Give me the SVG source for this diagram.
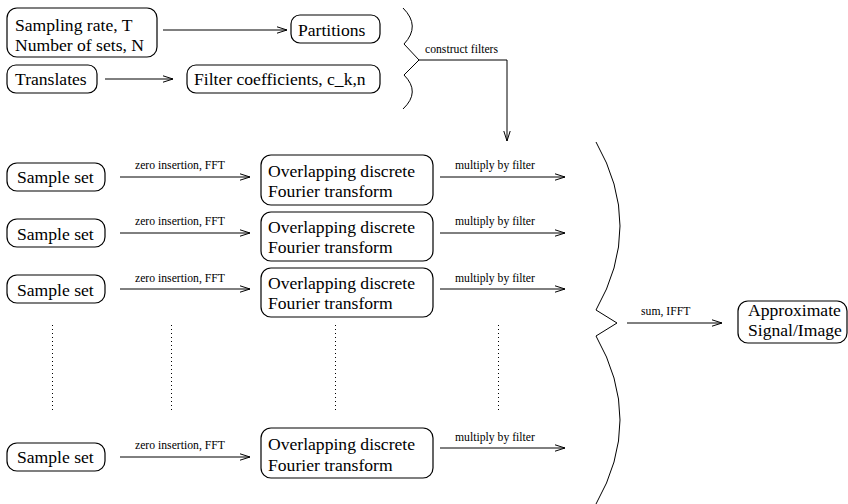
<svg xmlns="http://www.w3.org/2000/svg" width="848" height="504" viewBox="0 0 848 504">
<style>
.box{fill:none;stroke:#000;stroke-width:1.2}
.t{font-family:"Liberation Serif","Times New Roman",serif;font-size:17.6px;fill:#000}
.s{font-family:"Liberation Serif","Times New Roman",serif;font-size:11.7px;fill:#000}
.ln{fill:none;stroke:#000;stroke-width:1}
.dot{fill:none;stroke:#000;stroke-width:1;stroke-dasharray:1 3}
</style>
<defs>
<marker id="ah" markerUnits="userSpaceOnUse" markerWidth="12" markerHeight="8" refX="11" refY="4" orient="auto" overflow="visible">
<path d="M1,0.8 L11,4 L1,7.2" fill="none" stroke="#000" stroke-width="1"/>
</marker>
</defs>
<rect width="848" height="504" fill="#fff"/>

<g id="sampling-rate"><rect class="box" x="7" y="8" width="150" height="49" rx="10"/><text class="t" x="15" y="31">Sampling rate, T</text><text class="t" x="15" y="51">Number of sets, N</text></g>
<g id="partitions"><rect class="box" x="291" y="15" width="89" height="28" rx="9"/><text class="t" x="298" y="36">Partitions</text></g>
<g id="translates"><rect class="box" x="7" y="65" width="90" height="28" rx="9"/><text class="t" x="15" y="85">Translates</text></g>
<g id="filter-coefficients"><rect class="box" x="187" y="65" width="193" height="28" rx="9"/><text class="t" x="194" y="85">Filter coefficients, c_k,n</text></g>

<g id="sample-set-1"><rect class="box" x="7" y="163" width="98" height="28" rx="10"/><text class="t" x="17" y="183">Sample set</text></g>
<g id="sample-set-2"><rect class="box" x="7" y="219" width="98" height="28" rx="10"/><text class="t" x="17" y="240">Sample set</text></g>
<g id="sample-set-3"><rect class="box" x="7" y="275" width="98" height="28" rx="10"/><text class="t" x="17" y="296">Sample set</text></g>
<g id="sample-set-4"><rect class="box" x="7" y="443" width="98" height="28" rx="10"/><text class="t" x="17" y="463">Sample set</text></g>

<g id="odft-1"><rect class="box" x="261" y="155" width="172" height="50" rx="10"/><text class="t" x="268" y="177">Overlapping discrete</text><text class="t" x="268" y="197">Fourier transform</text></g>
<g id="odft-2"><rect class="box" x="261" y="212" width="172" height="49" rx="10"/><text class="t" x="268" y="233">Overlapping discrete</text><text class="t" x="268" y="253">Fourier transform</text></g>
<g id="odft-3"><rect class="box" x="261" y="268" width="172" height="49" rx="10"/><text class="t" x="268" y="289">Overlapping discrete</text><text class="t" x="268" y="309">Fourier transform</text></g>
<g id="odft-4"><rect class="box" x="261" y="428" width="172" height="50" rx="10"/><text class="t" x="268" y="450">Overlapping discrete</text><text class="t" x="268" y="471">Fourier transform</text></g>

<g id="approximate"><rect class="box" x="738" y="301" width="109" height="42" rx="10"/><text class="t" x="748" y="316">Approximate</text><text class="t" x="748" y="336">Signal/Image</text></g>

<g id="connectors">
<line class="ln" x1="163" y1="30" x2="287" y2="30" marker-end="url(#ah)"/>
<line class="ln" x1="105" y1="79" x2="173" y2="79" marker-end="url(#ah)"/>
<path class="ln" d="M403,8 Q421,26 404,44 L419,60 L404,75 Q421,92 403,109"/>
<text class="s" x="425" y="53">construct filters</text>
<path class="ln" d="M419,60 L507,60 L507,141" marker-end="url(#ah)"/>

<line class="ln" x1="120" y1="177" x2="250" y2="177" marker-end="url(#ah)"/>
<text class="s" x="135" y="169">zero insertion, FFT</text>
<line class="ln" x1="120" y1="233" x2="250" y2="233" marker-end="url(#ah)"/>
<text class="s" x="135" y="225">zero insertion, FFT</text>
<line class="ln" x1="120" y1="289" x2="250" y2="289" marker-end="url(#ah)"/>
<text class="s" x="135" y="282">zero insertion, FFT</text>
<line class="ln" x1="120" y1="457" x2="250" y2="457" marker-end="url(#ah)"/>
<text class="s" x="135" y="449">zero insertion, FFT</text>

<line class="ln" x1="440" y1="177" x2="565" y2="177" marker-end="url(#ah)"/>
<text class="s" x="455" y="169">multiply by filter</text>
<line class="ln" x1="440" y1="233" x2="565" y2="233" marker-end="url(#ah)"/>
<text class="s" x="455" y="225">multiply by filter</text>
<line class="ln" x1="440" y1="289" x2="565" y2="289" marker-end="url(#ah)"/>
<text class="s" x="455" y="282">multiply by filter</text>
<line class="ln" x1="440" y1="448" x2="565" y2="448" marker-end="url(#ah)"/>
<text class="s" x="455" y="441">multiply by filter</text>

<line class="dot" x1="52.5" y1="325" x2="52.5" y2="413"/>
<line class="dot" x1="171.5" y1="325" x2="171.5" y2="413"/>
<line class="dot" x1="335.5" y1="325" x2="335.5" y2="413"/>
<line class="dot" x1="498.5" y1="325" x2="498.5" y2="413"/>

<path class="ln" d="M596,142 Q644,226 596,310 L617,323 L596,336 Q644,420 596,504"/>
<line class="ln" x1="627" y1="323" x2="722" y2="323" marker-end="url(#ah)"/>
<text class="s" x="641" y="315">sum, IFFT</text>
</g>
</svg>
